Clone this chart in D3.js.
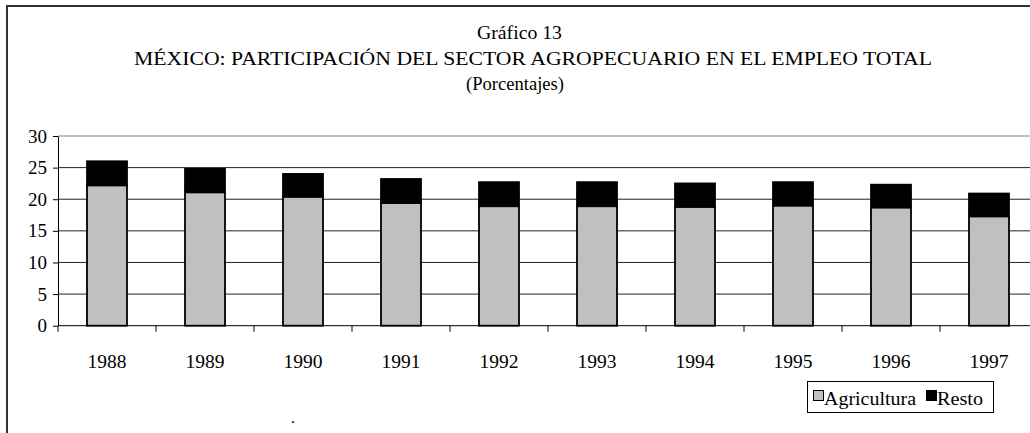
<!DOCTYPE html>
<html><head><meta charset="utf-8">
<script src="https://cdn.jsdelivr.net/npm/d3@7"></script>
<style>
html,body{margin:0;padding:0;background:#fff;}
svg{display:block;}
svg text{font-family:"Liberation Serif","Times New Roman",serif;}
</style></head>
<body>
<svg id="chart" width="1030" height="433"></svg>
<script>
const years = ["1988","1989","1990","1991","1992","1993","1994","1995","1996","1997"];
const agricultura = [22.2, 21.1, 20.4, 19.4, 18.9, 18.9, 18.8, 19.0, 18.7, 17.3];
const resto = [3.8, 3.7, 3.6, 3.8, 3.8, 3.8, 3.7, 3.7, 3.6, 3.6];
const yTicks = [0, 5, 10, 15, 20, 25, 30];
const seriesNames = ["Agricultura", "Resto"];
const seriesColors = ["#c0c0c0", "#000000"];
const titleLines = ["Gráfico 13", "MÉXICO: PARTICIPACIÓN DEL SECTOR AGROPECUARIO EN EL EMPLEO TOTAL", "(Porcentajes)"];

const svg = d3.select("#chart");
const pLeft = 58, pRight = 1038, pTop = 136, pBottom = 325.7;

const x = d3.scaleBand().domain(years).range([pLeft, pRight]).paddingInner(0.592).paddingOuter(0.296);
const y = d3.scaleLinear().domain([0, 30]).range([pBottom, pTop]);

// outer frame
svg.append("path").attr("d", "M7,440 L7,6 L1040,6").attr("fill", "none").attr("stroke", "#333").attr("stroke-width", 2);

// title (source text is horizontally stretched)
const tLayout = [{cx: 519.5, y: 39, w: 85}, {cx: 533, y: 65, w: 798}, {cx: 515, y: 90, w: 98}];
titleLines.forEach((t, i) => {
  svg.append("text").attr("x", tLayout[i].cx).attr("y", tLayout[i].y).attr("text-anchor", "middle")
    .attr("font-size", 18.5).attr("fill", "#000")
    .attr("textLength", tLayout[i].w).attr("lengthAdjust", "spacingAndGlyphs").text(t);
});

// gridlines
svg.append("g").selectAll("line").data(yTicks.filter(d => d > 0)).join("line")
  .attr("x1", pLeft).attr("x2", pRight).attr("y1", d => y(d)).attr("y2", d => y(d))
  .attr("stroke", d => d === 30 ? "#808080" : "#222").attr("stroke-width", 1);

// stacked bars
const rows = years.map((yr, i) => ({year: yr, Agricultura: agricultura[i], Resto: resto[i]}));
const stack = d3.stack().keys(seriesNames)(rows);
svg.append("g").selectAll("g").data(stack).join("g")
  .attr("fill", (d, i) => seriesColors[i])
  .selectAll("rect").data(d => d).join("rect")
  .attr("x", d => x(d.data.year)).attr("width", x.bandwidth())
  .attr("y", d => y(d[1])).attr("height", d => y(d[0]) - y(d[1]))
  .attr("stroke", "#000").attr("stroke-width", 1.8);

// y axis
const yAxis = d3.axisLeft(y).tickValues(yTicks).tickSize(5).tickPadding(6).tickSizeOuter(0);
const gy = svg.append("g").attr("transform", `translate(${pLeft},0)`).call(yAxis);
gy.attr("font-family", null);
gy.select(".domain").attr("stroke", "#000");
gy.selectAll("text").attr("font-size", 19).attr("fill", "#000");

// x axis with ticks at band boundaries
const gx = svg.append("g").attr("transform", `translate(0,${pBottom})`);
gx.append("line").attr("x1", pLeft).attr("x2", pRight).attr("stroke", "#000");
const bounds = years.map(d => x(d) - x.step() * x.paddingOuter());
gx.selectAll("line.tk").data(bounds).join("line").attr("class", "tk")
  .attr("x1", d => d).attr("x2", d => d).attr("y1", 0).attr("y2", 6).attr("stroke", "#000");
gx.selectAll("text").data(years).join("text")
  .attr("x", d => x(d) + x.bandwidth() / 2).attr("y", 42).attr("text-anchor", "middle")
  .attr("font-size", 19.5).attr("fill", "#000").text(d => d);

// legend
const lg = svg.append("g");
lg.append("rect").attr("x", 807.5).attr("y", 381.5).attr("width", 186).attr("height", 31)
  .attr("fill", "#fff").attr("stroke", "#000").attr("stroke-width", 1);
const lgPos = [{sx: 813, tx: 824, w: 92}, {sx: 926, tx: 937, w: 46}];
seriesNames.forEach((n, i) => {
  lg.append("rect").attr("x", lgPos[i].sx + 0.5).attr("y", 390.5).attr("width", 10).attr("height", 10)
    .attr("fill", seriesColors[i]).attr("stroke", "#000").attr("stroke-width", 1);
  lg.append("text").attr("x", lgPos[i].tx).attr("y", 405).attr("font-size", 19.5).attr("fill", "#000")
    .attr("textLength", lgPos[i].w).attr("lengthAdjust", "spacingAndGlyphs").text(n);
});

// stray dot
svg.append("text").attr("x", 293).attr("y", 423).attr("text-anchor", "middle").attr("font-size", 16).text(".");
</script>
</body></html>
